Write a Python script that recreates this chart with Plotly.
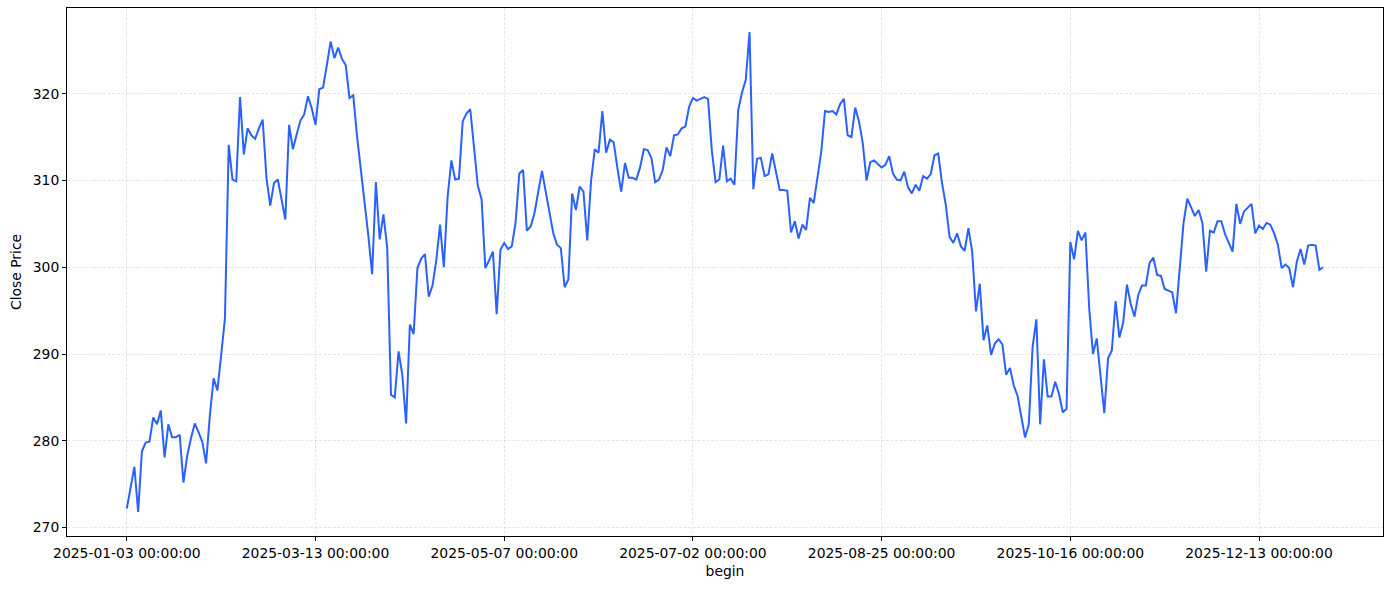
import plotly.graph_objects as go

tick_labels = ["2025-01-03 00:00:00", "2025-03-13 00:00:00", "2025-05-07 00:00:00",
               "2025-07-02 00:00:00", "2025-08-25 00:00:00", "2025-10-16 00:00:00",
               "2025-12-13 00:00:00"]
tick_positions = [0, 50, 100, 150, 200, 250, 300]

close_price = [
    272.2, 274.6, 277.0, 271.8, 278.8, 279.8, 279.9, 282.7, 281.9, 283.5,
    278.1, 281.9, 280.4, 280.4, 280.7, 275.2, 278.3, 280.3, 282.0, 281.0,
    279.9, 277.4, 282.9, 287.2, 285.8, 289.9, 294.1, 314.1, 310.1, 309.9,
    319.6, 313.0, 316.0, 315.2, 314.8, 316.0, 317.0, 310.3, 307.1, 309.7,
    310.1, 307.8, 305.5, 316.4, 313.6, 315.3, 316.9, 317.6, 319.7, 318.3,
    316.4, 320.5, 320.7, 323.3, 326.0, 324.1, 325.3, 324.0, 323.3, 319.5,
    319.8, 315.1, 311.4, 307.6, 303.6, 299.2, 309.8, 303.2, 306.1, 302.2,
    285.3, 285.0, 290.3, 287.6, 282.0, 293.4, 292.3, 299.9, 301.0, 301.5,
    296.6, 297.9, 300.8, 304.9, 300.0, 308.1, 312.3, 310.1, 310.2, 316.8,
    317.7, 318.2, 313.9, 309.4, 307.8, 299.9, 300.8, 301.8, 294.6, 302.0,
    302.8, 302.1, 302.4, 305.1, 310.8, 311.2, 304.2, 304.7, 306.2, 308.7,
    311.1, 308.7, 306.2, 303.9, 302.6, 302.2, 297.7, 298.6, 308.5, 306.6,
    309.3, 308.7, 303.1, 309.9, 313.6, 313.2, 318.0, 313.2, 314.7, 314.4,
    311.4, 308.7, 312.0, 310.3, 310.3, 310.1, 311.5, 313.6, 313.5, 312.6,
    309.8, 310.1, 311.2, 313.8, 312.8, 315.2, 315.3, 316.0, 316.2, 318.5,
    319.5, 319.2, 319.4, 319.6, 319.4, 313.5, 309.8, 310.1, 314.0, 309.9,
    310.2, 309.5, 318.1, 320.1, 321.6, 327.1, 309.0, 312.5, 312.6, 310.5,
    310.7, 313.1, 311.0, 308.9, 308.9, 308.8, 304.0, 305.3, 303.3, 304.9,
    304.3, 308.0, 307.4, 310.1, 313.3, 318.0, 317.9, 318.0, 317.6, 318.8,
    319.4, 315.2, 315.0, 318.4, 316.8, 314.3, 310.0, 312.1, 312.3, 311.9,
    311.5, 311.8, 312.8, 310.8, 310.1, 310.0, 311.0, 309.2, 308.5, 309.5,
    308.8, 310.5, 310.2, 310.7, 312.9, 313.1, 309.7, 307.2, 303.5, 302.8,
    303.9, 302.4, 301.9, 304.5, 301.8, 294.9, 298.1, 291.6, 293.3, 289.9,
    291.2, 291.7, 291.1, 287.6, 288.4, 286.4, 285.2, 282.8, 280.4, 281.9,
    290.8, 294.0, 281.9, 289.4, 285.1, 285.1, 286.8, 285.4, 283.3, 283.7,
    302.9, 300.9, 304.2, 303.1, 304.0, 295.3, 290.0, 291.8, 287.6, 283.2,
    289.5, 290.4, 296.1, 291.9, 293.6, 298.0, 295.8, 294.3, 296.8, 297.9,
    297.9, 300.5, 301.1, 299.1, 299.0, 297.5, 297.3, 297.1, 294.7, 300.1,
    305.1, 307.9, 306.8, 305.9, 306.6, 305.1, 299.5, 304.2, 304.0, 305.3,
    305.3, 303.8, 302.8, 301.8, 307.3, 305.0, 306.4, 306.8, 307.3, 303.9,
    304.8, 304.4, 305.1, 304.9, 303.9, 302.6, 299.9, 300.3, 299.9, 297.7,
    300.6, 302.1, 300.3, 302.5, 302.6, 302.5, 299.7, 300.0,
]

index = list(range(len(close_price)))

n = len(close_price)
xpad = (n - 1) * 0.05
ymin, ymax = min(close_price), max(close_price)
ypad = (ymax - ymin) * 0.05

fig = go.Figure()
fig.add_trace(go.Scatter(
    x=index, y=close_price, mode="lines",
    line=dict(color="#2962FF", width=2),
    showlegend=False, hoverinfo="skip",
))

font = dict(family="DejaVu Sans", size=13.9, color="black")
grid_col = "rgba(176,176,176,0.3)"

fig.update_layout(
    width=1389, height=589,
    margin=dict(l=67, r=6, t=8, b=53, autoexpand=False),
    paper_bgcolor="white", plot_bgcolor="white",
    font=font,
)
fig.update_xaxes(
    range=[-xpad, n - 1 + xpad], automargin=False,
    tickmode="array", tickvals=tick_positions, ticktext=tick_labels,
    showgrid=True, gridcolor=grid_col, gridwidth=1, griddash="3px,1.5px",
    showline=True, linecolor="black", linewidth=1, mirror=True,
    ticks="outside", ticklen=4, tickcolor="black", tickwidth=1,
    zeroline=False,
    title=dict(text="begin", font=font, standoff=6),
)
fig.update_yaxes(
    range=[ymin - ypad, ymax + ypad], automargin=False,
    tickmode="linear", tick0=270, dtick=10,
    showgrid=True, gridcolor=grid_col, gridwidth=1, griddash="3px,1.5px",
    showline=True, linecolor="black", linewidth=1, mirror=True,
    ticks="outside", ticklen=4, tickcolor="black", tickwidth=1,
    zeroline=False,
    title=dict(text="Close Price", font=font, standoff=7),
)

fig.write_html(
    "out.html",
    config={"displayModeBar": False},
    post_script="document.body.style.margin='0';document.body.style.overflow='hidden';",
)
